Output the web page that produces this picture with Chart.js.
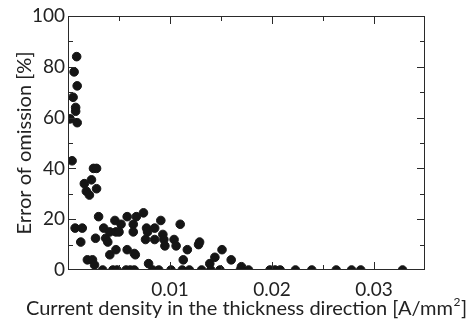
<!DOCTYPE html>
<html>
<head>
<meta charset="utf-8">
<script src="https://cdn.jsdelivr.net/npm/chart.js@4.4.1/dist/chart.umd.min.js"></script>
<style>
  html, body { margin: 0; padding: 0; background: #fff; }
  #wrap { width: 472px; height: 323px; }
</style>
</head>
<body>
<div id="wrap"><canvas id="chart"></canvas></div>
<script>
// current density [A/mm2] and error of omission [%]
const currentDensity = [
  0.00085, 0.0006, 0.0009, 0.0005, 0.00075, 0.00075, 0.0002, 0.0009,
  0.0004, 0.0025, 0.0028, 0.0016, 0.0023, 0.0018, 0.0021, 0.0028,
  0.003, 0.0007, 0.0014, 0.00125, 0.0027, 0.0035, 0.0037, 0.0039,
  0.0041, 0.0047, 0.005, 0.0046, 0.0052, 0.0058, 0.0064, 0.0064, 0.0067,
  0.0041, 0.0047, 0.0058, 0.0065, 0.0066, 0.0019, 0.0024, 0.0026,
  0.0074, 0.0077, 0.0078, 0.0076, 0.0085, 0.0085, 0.0091, 0.0093, 0.0094,
  0.0095, 0.0104, 0.0106, 0.011, 0.0117, 0.0113, 0.0079, 0.0128, 0.0129,
  0.0139, 0.0144, 0.0151, 0.016, 0.017,
  0.0034, 0.0044, 0.0048, 0.0057, 0.0061, 0.0065, 0.0083, 0.0089, 0.0101,
  0.0112, 0.0119, 0.0131, 0.014, 0.0149, 0.0169, 0.0177, 0.0198, 0.0203,
  0.0208, 0.0223, 0.0239, 0.0263, 0.0278, 0.0287, 0.0328
];
const errorOfOmission = [
  84, 78, 72.5, 68, 64, 62.5, 59.5, 58,
  43, 40, 40, 34, 35.5, 31, 29.5, 32,
  21, 16.5, 16.5, 11, 12.5, 16.5, 12.5, 11,
  15, 15, 15, 19.5, 18, 21, 18, 15, 21,
  6, 8, 8, 6.5, 6, 4, 4, 2,
  22.5, 16.5, 15, 12, 16.5, 12, 19.5, 14, 12,
  9.5, 12, 9.5, 18, 8, 4, 2.5, 10, 11,
  2.5, 5, 8, 4, 1.3,
  0, 0, 0, 0, 0, 0, 0, 0, 0,
  0, 0, 0, 0, 0, 0, 0, 0, 0,
  0, 0, 0, 0, 0, 0, 0
];
const xTickValues = [0.01, 0.02, 0.03];
const yTickValues = [0, 20, 40, 60, 80, 100];
const xTitle = 'Current density in the thickness direction [A/mm';
const xTitleSup = '2';

const points = currentDensity.map((x, k) => ({ x: x, y: errorOfOmission[k] }));

const titleFont = '20px Lato, "Open Sans", sans-serif';
const supFont = '12px Lato, "Open Sans", sans-serif';

// frame with inward ticks on all four sides, plus the x title with its superscript
const frameTicks = {
  id: 'frameTicks',
  afterDraw(chart) {
    const { ctx, chartArea: a, scales: { x, y } } = chart;
    ctx.save();
    ctx.strokeStyle = '#2a2a2a';
    ctx.lineWidth = 1;
    ctx.strokeRect(a.left + 0.5, a.top + 0.5, a.right - a.left - 1, a.bottom - a.top - 1);
    ctx.beginPath();
    for (let v = 0.005; v < 0.035; v += 0.005) {
      const px = Math.round(x.getPixelForValue(v)) + 0.5;
      const len = Math.abs(v / 0.01 - Math.round(v / 0.01)) < 1e-6 ? 8 : 5;
      ctx.moveTo(px, a.bottom); ctx.lineTo(px, a.bottom - len);
      ctx.moveTo(px, a.top); ctx.lineTo(px, a.top + len);
    }
    for (let v = 10; v < 100; v += 10) {
      const py = Math.round(y.getPixelForValue(v)) + 0.5;
      const len = v % 20 === 0 ? 8 : 5;
      ctx.moveTo(a.left, py); ctx.lineTo(a.left + len, py);
      ctx.moveTo(a.right, py); ctx.lineTo(a.right - len, py);
    }
    ctx.stroke();

    ctx.fillStyle = '#222';
    ctx.textBaseline = 'alphabetic';
    ctx.font = titleFont;
    const w1 = ctx.measureText(xTitle).width;
    ctx.font = supFont;
    const w2 = ctx.measureText(xTitleSup).width;
    ctx.font = titleFont;
    const w3 = ctx.measureText(']').width;
    let tx = (a.left + a.right) / 2 - (w1 + w2 + w3 + 1) / 2;
    const base = a.bottom + 45;
    ctx.fillText(xTitle, tx, base);
    tx += w1;
    ctx.font = supFont;
    ctx.fillText(xTitleSup, tx + 0.5, base - 9);
    tx += w2 + 1;
    ctx.font = titleFont;
    ctx.fillText(']', tx, base);
    ctx.restore();
  }
};

const tickFont = { family: 'Lato, "Open Sans", sans-serif', size: 19 };
const axisFont = { family: 'Lato, "Open Sans", sans-serif', size: 20 };

new Chart(document.getElementById('chart'), {
  type: 'scatter',
  data: {
    datasets: [{
      data: points,
      backgroundColor: '#151515',
      borderColor: '#151515',
      pointRadius: 4.3,
      pointHoverRadius: 4.3
    }]
  },
  options: {
    responsive: true,
    maintainAspectRatio: false,
    animation: false,
    events: [],
    layout: { padding: { top: 16, right: 47, left: 0, bottom: 0 } },
    plugins: { legend: { display: false }, tooltip: { enabled: false } },
    scales: {
      x: {
        type: 'linear',
        min: 0,
        max: 0.035,
        grid: { display: false, drawTicks: false },
        border: { display: false },
        afterBuildTicks: s => { s.ticks = xTickValues.map(v => ({ value: v })); },
        afterFit: s => { s.height = 53; },
        ticks: { color: '#222', font: tickFont, padding: 8, maxRotation: 0,
                 callback: v => v.toFixed(2) },
        title: { display: false }
      },
      y: {
        min: 0,
        max: 100,
        grid: { display: false, drawTicks: false },
        border: { display: false },
        afterBuildTicks: s => { s.ticks = yTickValues.map(v => ({ value: v })); },
        afterFit: s => { s.width = 68; },
        ticks: { color: '#222', font: tickFont, padding: 3 },
        title: { display: true, text: 'Error of omission [%]', color: '#222', font: axisFont,
                 padding: { top: 13, bottom: 0 } }
      }
    }
  },
  plugins: [frameTicks]
});
</script>
</body>
</html>
